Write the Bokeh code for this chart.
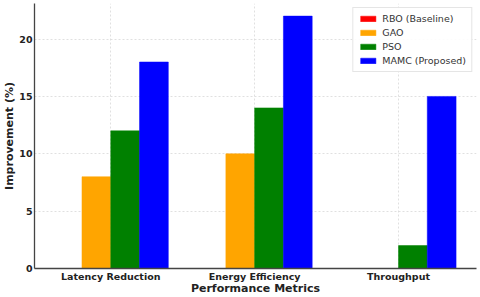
from bokeh.plotting import figure
from bokeh.models import Range1d, FixedTicker, Legend, LegendItem
from bokeh.transform import dodge
from bokeh.embed import file_html
from bokeh.resources import INLINE
from bokeh.models import ColumnDataSource

categories = ["Latency Reduction", "Energy Efficiency", "Throughput"]
rbo = [0, 0, 0]
gao = [8, 10, 0]
pso = [12, 14, 2]
mamc = [18, 22, 15]
series_names = ["RBO (Baseline)", "GAO", "PSO", "MAMC (Proposed)"]
series_colors = ["#ff0000", "#ffa500", "#008000", "#0000ff"]
y_ticks = [0, 5, 10, 15, 20]

src = ColumnDataSource(dict(x=list(range(len(categories))), rbo=rbo, gao=gao, pso=pso, mamc=mamc))

p = figure(width=480, height=297, output_backend="svg", toolbar_location=None,
           x_range=Range1d(-0.53, 2.542), y_range=Range1d(0, 23.1),
           min_border_left=0, min_border_right=4, min_border_top=3, min_border_bottom=0)

width = 0.2
offsets = [-0.3, -0.1, 0.1, 0.3]
cols = ["rbo", "gao", "pso", "mamc"]
items = []
for name, col, color, off in zip(series_names, cols, series_colors, offsets):
    r = p.vbar(x=dodge("x", off), top=col, width=width, source=src,
               fill_color=color, line_color=color, line_width=0.5)
    items.append(LegendItem(label=name, renderers=[r]))

legend = Legend(items=items, location="top_right")
legend.label_text_font = "DejaVu Sans"
legend.label_text_font_size = "9.5px"
legend.label_text_color = "#333333"
legend.glyph_width = 19
legend.glyph_height = 7
legend.label_height = 10
legend.spacing = 3
legend.padding = 5
legend.margin = 4
legend.border_line_color = "#cccccc"
legend.border_line_width = 1
legend.background_fill_alpha = 0.9
p.add_layout(legend)

p.outline_line_color = None
p.background_fill_color = "white"

p.xaxis.ticker = FixedTicker(ticks=list(range(len(categories))))
p.xaxis.major_label_overrides = {i: c for i, c in enumerate(categories)}
p.yaxis.ticker = FixedTicker(ticks=y_ticks)

for ax in (p.xaxis, p.yaxis):
    ax.axis_line_color = "#444444"
    ax.axis_line_width = 1.3
    ax.major_tick_out = 0
    ax.major_tick_in = 0
    ax.minor_tick_out = 0
    ax.minor_tick_in = 0
    ax.major_label_text_font = "DejaVu Sans"
    ax.major_label_text_font_style = "bold"
    ax.major_label_text_font_size = "9.5px"
    ax.major_label_text_color = "#222222"
    ax.major_label_text_line_height = 1.0
    ax.axis_label_text_font = "DejaVu Sans"
    ax.axis_label_text_font_style = "bold"
    ax.axis_label_text_font_size = "11px"
    ax.axis_label_text_color = "#222222"
    ax.axis_label_text_line_height = 1.0
    ax.axis_label_standoff = 0

p.xaxis.major_label_standoff = 2
p.xaxis.axis_label_standoff = -3
p.yaxis.major_label_standoff = 2

p.xaxis.axis_label = "Performance Metrics"
p.yaxis.axis_label = "Improvement (%)"

p.xgrid.grid_line_color = "#d8d8d8"
p.ygrid.grid_line_color = "#d8d8d8"
p.xgrid.grid_line_dash = "2 2"
p.ygrid.grid_line_dash = "2 2"
p.xgrid.grid_line_width = 0.8
p.ygrid.grid_line_width = 0.8

open("out.html", "w").write(file_html(p, INLINE))
